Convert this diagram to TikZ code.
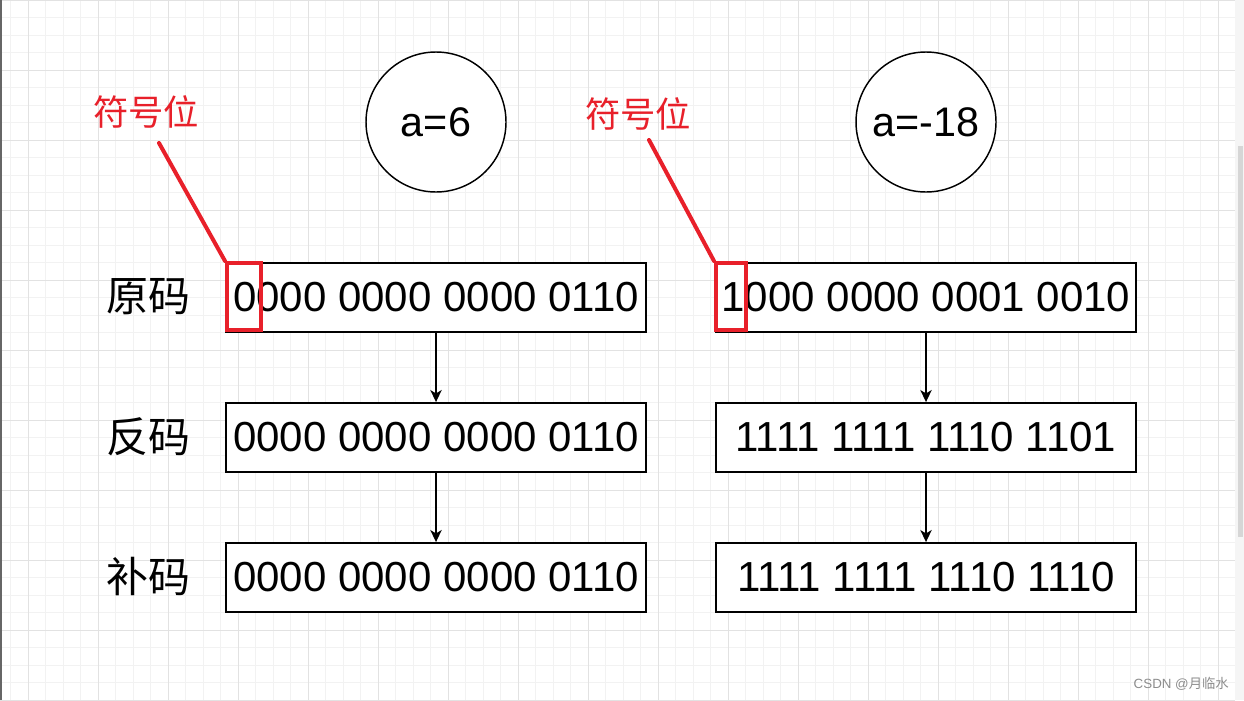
\documentclass[tikz,border=0pt]{standalone}
\usepackage{fontspec}
\setmainfont{Liberation Sans}
\newfontfamily\cjk{Noto Sans CJK SC}
\usetikzlibrary{arrows.meta}
\definecolor{signred}{HTML}{E8202A}
\definecolor{gridminor}{HTML}{F2F2F2}
\definecolor{gridmajor}{HTML}{E2E2E2}
\begin{document}
\begin{tikzpicture}[x=0.75pt,y=-0.75pt,
  bitbox/.style={draw=black,line width=1.4pt,fill=white,minimum width=315pt,minimum height=51.75pt,inner sep=0pt,font=\fontsize{31.5}{31.5}\selectfont},
  valcircle/.style={circle,draw=black,line width=1.1pt,fill=white,minimum size=105pt,inner sep=0pt,font=\fontsize{31}{31}\selectfont},
  rowlabel/.style={inner sep=0pt,font=\cjk\fontsize{31.5}{31.5}\selectfont},
  signlabel/.style={inner sep=0pt,text=signred,font=\cjk\fontsize{26.5}{26.5}\selectfont},
  signbox/.style={draw=signred,line width=3pt,minimum width=25.5pt,minimum height=50.25pt,inner sep=0pt},
  signline/.style={draw=signred,line width=3pt,line cap=round},
  flow/.style={-{Stealth[length=9pt,width=8.5pt,inset=2.5pt]},line width=1.1pt}
]
\useasboundingbox (0,0) rectangle (1244,700);
\fill[white] (0,0) rectangle (1244,700);
\begin{scope}
\clip (0,0) rectangle (1235,700);
\foreach \x in {10.5,28,...,1236} \draw[gridminor,line width=0.75pt] (\x,0) -- (\x,700);
\foreach \y in {0,17.5,...,701} \draw[gridminor,line width=0.75pt] (0,\y) -- (1235,\y);
\foreach \x in {28,98,...,1236} \draw[gridmajor,line width=0.75pt] (\x,0) -- (\x,700);
\foreach \y in {0,70,...,701} \draw[gridmajor,line width=0.75pt] (0,\y) -- (1235,\y);
\end{scope}
\fill[black!4] (1235,0) rectangle (1244,700);
\fill[black!16] (1238,146) rectangle (1243,537);
\fill[black!60] (0,0) rectangle (2,700);

% value circles
\node[valcircle] (ca) at (436,122) {a=6};
\node[valcircle] (cb) at (926,122) {a=-18};

% row labels
\node[rowlabel] (l1) at (148,297) {原码};
\node[rowlabel] (l2) at (148,437) {反码};
\node[rowlabel] (l3) at (148,577) {补码};

% bit boxes
\node[bitbox] (a1) at (436,297.5) {0000 0000 0000 0110};
\node[bitbox] (a2) at (436,437.5) {0000 0000 0000 0110};
\node[bitbox] (a3) at (436,577.5) {0000 0000 0000 0110};
\node[bitbox] (b1) at (926,297.5) {1000 0000 0001 0010};
\node[bitbox] (b2) at (926,437.5) {1111 1111 1110 1101};
\node[bitbox] (b3) at (926,577.5) {1111 1111 1110 1110};

\draw[flow] (a1) -- (a2);
\draw[flow] (a2) -- (a3);
\draw[flow] (b1) -- (b2);
\draw[flow] (b2) -- (b3);

% sign bit markers
\node[signbox] (sa) at (244,296.5) {};
\node[signbox,minimum width=22.5pt] (sb) at (731,296.5) {};
\node[signlabel] (ta) at (146,112) {符号位};
\node[signlabel] (tb) at (638,114) {符号位};
\coordinate (pa) at (159,143);
\coordinate (pb) at (649,140);
\draw[signline] (pa) -- (sa.north west);
\draw[signline] (pb) -- (sb.north west);

% watermark
\node[anchor=east,inner sep=0pt,text=black!45,font=\fontsize{10}{10}\selectfont] (wm) at (1229,684) {CSDN @{\cjk 月临水}};
\end{tikzpicture}
\end{document}
